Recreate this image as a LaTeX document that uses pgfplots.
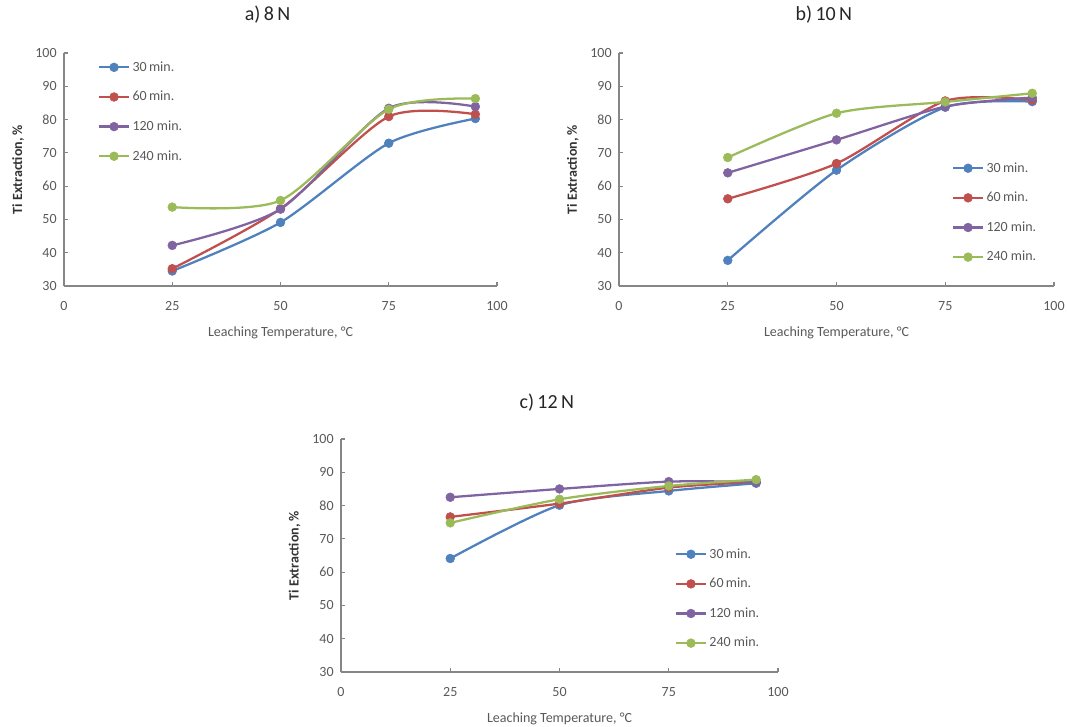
\documentclass[border=0pt]{standalone}
\usepackage{fontspec}
\setmainfont{Carlito}
\usepackage{pgfplots}
\pgfplotsset{compat=1.18}
\definecolor{cblue}{HTML}{4F81BD}
\definecolor{cred}{HTML}{C0504D}
\definecolor{cpurple}{HTML}{8064A2}
\definecolor{cgreen}{HTML}{9BBB59}
\definecolor{axisgray}{HTML}{868686}
\definecolor{tickgray}{HTML}{595959}
\pgfplotsset{
  myax/.style={
    scale only axis, height=174.75pt,
    xmin=0, xmax=100, ymin=30, ymax=100,
    xtick={0,25,50,75,100}, ytick={30,40,...,100},
    axis x line=bottom, axis y line=left,
    axis line style={-, draw=axisgray, line width=0.8pt},
    tick align=inside, major tick length=3pt,
    tick style={draw=axisgray, line width=0.8pt},
    ticklabel style={font=\fontsize{10.5}{12}\selectfont, text=tickgray},
    /pgf/number format/assume math mode=true,
    xticklabel style={yshift=-8pt},
    yticklabel style={xshift=-2pt},
    xlabel={Leaching Temperature, °C},
    ylabel={\bfseries Ti Extraction, \%},
    xlabel style={at={(axis description cs:0.5,-0.2)}, anchor=center, font=\fontsize{10.5}{12}\selectfont, text=tickgray},
    ylabel style={at={(axis description cs:-0.106,0.5)}, anchor=center, font=\fontsize{10.5}{12}\selectfont, text=black!80},
    title style={anchor=center, font=\fontsize{15}{17}\selectfont, text=black!85},
    legend style={draw=none, fill=none, font=\fontsize{10.5}{12}\selectfont, text=tickgray, row sep=9.5pt, anchor=north west, inner sep=0pt},
    legend cell align=left,
    legend image code/.code={\draw[mark repeat=2, mark phase=2] plot coordinates {(0pt,0pt)(11pt,0pt)(22pt,0pt)};},
    every axis plot/.append style={smooth, tension=0.45, line width=1.7pt, mark=*, mark size=3.3pt, mark options={solid, line width=0.4pt}},
  }
}
\begin{document}
\begin{tikzpicture}
\path[use as bounding box] (0pt,0pt) rectangle (800.25pt,-545.25pt);
% a) 8 N
\begin{axis}[myax, width=324.75pt, at={(48pt,-214.5pt)}, anchor=south west,
  title={a)\,8\,N}, title style={at={(axis description cs:0.47,1.129)}},
  legend style={at={(axis description cs:0.0785,0.976)}}]
\addplot[cblue] coordinates {(25,34.5)(50,49.1)(75,72.9)(95,80.3)};
\addplot[cred] coordinates {(25,35.2)(50,53.2)(75,80.9)(95,81.6)};
\addplot[cpurple] coordinates {(25,42.2)(50,53.1)(75,83.4)(95,83.9)};
\addplot[cgreen] coordinates {(25,53.7)(50,55.7)(75,83.1)(95,86.3)};
\legend{30\,min., 60\,min., 120 min., 240 min.}
\end{axis}
% b) 10 N
\begin{axis}[myax, width=326.25pt, at={(464.25pt,-214.5pt)}, anchor=south west,
  title={b)\,10\,N}, title style={at={(axis description cs:0.471,1.129)}},
  legend style={at={(axis description cs:0.7655,0.543)}}]
\addplot[cblue] coordinates {(25,37.7)(50,64.8)(75,83.7)(95,85.4)};
\addplot[cred] coordinates {(25,56.2)(50,66.8)(75,85.6)(95,85.9)};
\addplot[cpurple] coordinates {(25,64.0)(50,73.9)(75,83.9)(95,86.6)};
\addplot[cgreen] coordinates {(25,68.6)(50,81.9)(75,85.3)(95,87.9)};
\legend{30\,min., 60\,min., 120 min., 240 min.}
\end{axis}
% c) 12 N
\begin{axis}[myax, width=327.75pt, at={(255.75pt,-504pt)}, anchor=south west,
  title={c)\,12\,N}, title style={at={(axis description cs:0.471,1.124)}},
  legend style={at={(axis description cs:0.764,0.543)}}]
\addplot[cblue] coordinates {(25,64.1)(50,80.1)(75,84.4)(95,86.7)};
\addplot[cred] coordinates {(25,76.6)(50,80.6)(75,85.4)(95,87.1)};
\addplot[cpurple] coordinates {(25,82.5)(50,85.0)(75,87.2)(95,87.1)};
\addplot[cgreen] coordinates {(25,74.8)(50,81.9)(75,85.9)(95,87.8)};
\legend{30\,min., 60\,min., 120 min., 240 min.}
\end{axis}
\end{tikzpicture}
\end{document}
